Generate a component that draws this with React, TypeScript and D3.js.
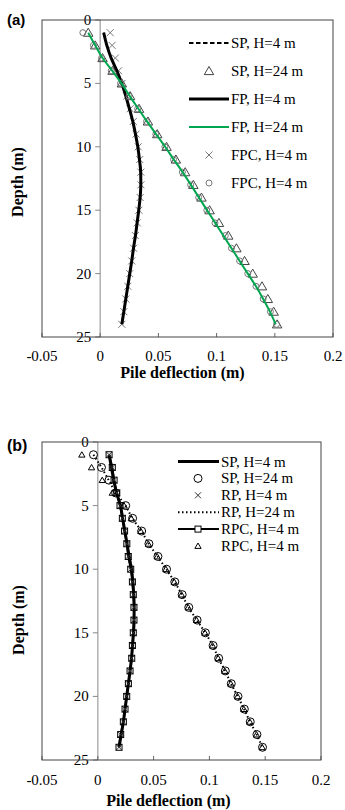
import React from "react";
import * as d3 from "d3";

const depths = [1, 2, 3, 4, 5, 6, 7, 8, 9, 10, 11, 12, 13, 14, 15, 16, 17, 18, 19, 20, 21, 22, 23, 24];
const xTicks = [-0.05, 0, 0.05, 0.1, 0.15, 0.2];
const xTickLabels = ["-0.05", "0", "0.05", "0.1", "0.15", "0.2"];
const yTicks = [0, 5, 10, 15, 20, 25];

// Panel (a)
const aSpH4 = [0.003, 0.0058, 0.0095, 0.0143, 0.0186, 0.0221, 0.0252, 0.028, 0.0303, 0.0323, 0.0338, 0.0348, 0.0349, 0.0343, 0.0331, 0.0317, 0.0302, 0.0286, 0.0271, 0.0254, 0.0237, 0.022, 0.0203, 0.0186];
const aSpH24 = [-0.0103, -0.0043, 0.002, 0.0106, 0.0186, 0.0257, 0.0334, 0.041, 0.049, 0.057, 0.065, 0.073, 0.08, 0.087, 0.094, 0.102, 0.11, 0.117, 0.124, 0.131, 0.139, 0.144, 0.149, 0.152];
const aFpH4 = [0.003, 0.0057, 0.0094, 0.0143, 0.0186, 0.022, 0.0251, 0.028, 0.0303, 0.0323, 0.0337, 0.0348, 0.0349, 0.0343, 0.0331, 0.0317, 0.0303, 0.0286, 0.0271, 0.0254, 0.0237, 0.022, 0.0203, 0.0186];
const aFpH24 = [-0.0103, -0.0043, 0.002, 0.0103, 0.0183, 0.0254, 0.0328, 0.0402, 0.048, 0.0558, 0.0632, 0.0708, 0.0779, 0.0848, 0.0918, 0.0988, 0.1058, 0.1128, 0.1198, 0.1268, 0.1338, 0.14, 0.1458, 0.1508];
const aFpcH4 = [0.0086, 0.0102, 0.013, 0.0158, 0.0188, 0.0229, 0.0257, 0.0285, 0.0308, 0.0327, 0.034, 0.0349, 0.035, 0.0343, 0.0332, 0.0318, 0.0302, 0.0287, 0.0271, 0.0254, 0.0237, 0.022, 0.0203, 0.0186];
const aFpcH24 = [-0.0149, -0.0058, 0.0012, 0.0095, 0.0175, 0.0248, 0.0322, 0.0398, 0.0478, 0.0556, 0.063, 0.0706, 0.0777, 0.0846, 0.0916, 0.0986, 0.1075, 0.1128, 0.1198, 0.1268, 0.1338, 0.14, 0.1462, 0.1515];

// Panel (b)
const bSpH4 = [0.0101, 0.0122, 0.0143, 0.0168, 0.0203, 0.0222, 0.0242, 0.0262, 0.0281, 0.0302, 0.0314, 0.0322, 0.0326, 0.0325, 0.032, 0.0311, 0.0302, 0.0289, 0.0274, 0.0259, 0.0244, 0.0229, 0.021, 0.019];
const bSpH24 = [-0.0039, 0.0033, 0.0100, 0.016, 0.025, 0.0312, 0.0393, 0.0458, 0.0539, 0.0616, 0.069, 0.0756, 0.0815, 0.089, 0.0964, 0.1033, 0.1083, 0.1143, 0.1196, 0.1256, 0.1313, 0.1366, 0.1426, 0.1476];
const bRpH4 = [0.0101, 0.0128, 0.0146, 0.0172, 0.0201, 0.022, 0.0241, 0.026, 0.0272, 0.0295, 0.031, 0.0318, 0.0324, 0.0324, 0.0318, 0.031, 0.0304, 0.0289, 0.0274, 0.0259, 0.0244, 0.0229, 0.0205, 0.019];
const bRpH24 = [-0.0039, 0.0033, 0.0098, 0.0162, 0.0248, 0.031, 0.039, 0.0456, 0.0536, 0.0614, 0.0688, 0.0754, 0.0813, 0.0888, 0.0962, 0.1031, 0.1081, 0.1141, 0.1194, 0.1254, 0.1311, 0.1364, 0.1424, 0.1474];
const bRpcH4 = [0.0101, 0.013, 0.0146, 0.017, 0.0199, 0.022, 0.024, 0.026, 0.0273, 0.0295, 0.031, 0.0318, 0.0324, 0.0324, 0.0318, 0.031, 0.0304, 0.0289, 0.0274, 0.0259, 0.0244, 0.0229, 0.0205, 0.019];
const bRpcH24 = [-0.0143, -0.0056, 0.004, 0.013, 0.0235, 0.03, 0.0385, 0.0452, 0.0532, 0.061, 0.0685, 0.075, 0.081, 0.0885, 0.096, 0.1028, 0.1078, 0.1138, 0.1192, 0.1252, 0.1309, 0.1362, 0.1422, 0.1473];

const legendA = ["SP, H=4 m", "SP, H=24 m", "FP, H=4 m", "FP, H=24 m", "FPC, H=4 m", "FPC, H=4 m"];
const legendB = ["SP, H=4 m", "SP, H=24 m", "RP, H=4 m", "RP, H=24 m", "RPC, H=4 m", "RPC, H=4 m"];

const SERIF = "'Liberation Serif', 'Times New Roman', serif";
const SANS = "'Liberation Sans', Arial, sans-serif";
const GREEN = "#00a54f";

type Sc = d3.ScaleLinear<number, number>;

function tri(x: number, y: number, r: number) {
  return `M${x},${y - r}L${x + r * 1.05},${y + r * 0.8}L${x - r * 1.05},${y + r * 0.8}Z`;
}
function cross(x: number, y: number, r: number) {
  return `M${x - r},${y - r}L${x + r},${y + r}M${x - r},${y + r}L${x + r},${y - r}`;
}

function Axes({ x, y, tickLen, labelDy }: { x: Sc; y: Sc; tickLen: number; labelDy: number }) {
  const [x0, x1] = x.range();
  const [y0, y1] = y.range();
  const zx = x(0);
  return (
    <g>
      <line x1={zx} x2={zx} y1={y0} y2={y1} stroke="#b0b0b0" strokeWidth={1.5} />
      {yTicks.map((t) => (
        <g key={"y" + t}>
          <line x1={zx - 5} x2={zx} y1={y(t)} y2={y(t)} stroke="#888" strokeWidth={1} />
          <text x={zx - 9} y={y(t) + 5} textAnchor="end" fontSize={15} fontFamily={SERIF} fill="#000">
            {t}
          </text>
        </g>
      ))}
      {xTicks.map((t, i) => (
        <g key={"x" + t}>
          <line x1={x(t)} x2={x(t)} y1={y1} y2={y1 - tickLen} stroke="#666" strokeWidth={1} />
          <text x={x(t)} y={y1 + labelDy} textAnchor="middle" fontSize={15} fontFamily={SERIF} fill="#000">
            {xTickLabels[i]}
          </text>
        </g>
      ))}
      <rect x={x0} y={y0} width={x1 - x0} height={y1 - y0} fill="none" stroke="#444" strokeWidth={1} />
    </g>
  );
}

function linePath(x: Sc, y: Sc, vals: number[]) {
  const gen = d3
    .line<number>()
    .x((v) => x(v))
    .y((_, i) => y(depths[i]))
    .curve(d3.curveMonotoneY);
  return gen(vals) || "";
}

export default function App() {
  const xA = d3.scaleLinear().domain([-0.05, 0.2]).range([42, 333]);
  const yA = d3.scaleLinear().domain([0, 25]).range([20, 337]);
  const xB = d3.scaleLinear().domain([-0.05, 0.2]).range([42, 321]);
  const yB = d3.scaleLinear().domain([0, 25]).range([442, 760]);

  const legAy = legendA.map((_, i) => 43 + i * 28);
  const legBy = legendB.map((_, i) => 461.5 + i * 16.9);

  return (
    <svg width={345} height={810} style={{ position: "absolute", left: 0, top: 0, background: "#fff" }}>
      <rect x={0} y={0} width={345} height={810} fill="#fff" />
      {/* Panel (a) */}
      <text x={7} y={25} fontSize={15} fontWeight="bold" fontFamily={SANS}>(a)</text>
      <Axes x={xA} y={yA} tickLen={4} labelDy={24} />
      <path d={linePath(xA, yA, aSpH4)} fill="none" stroke="#000" strokeWidth={1.5} strokeDasharray="4,2" />
      {aFpcH4.map((v, i) => (
        <path key={"ax" + i} d={cross(xA(v), yA(depths[i]), 3.5)} stroke="#777" strokeWidth={1} fill="none" />
      ))}
      <path d={linePath(xA, yA, aFpH4)} fill="none" stroke="#000" strokeWidth={3} />
      {aSpH24.map((v, i) => (
        <path key={"at" + i} d={tri(xA(v), yA(depths[i]), 4.5)} stroke="#444" strokeWidth={1} fill="none" />
      ))}
      {aFpcH24.map((v, i) => (
        <circle key={"ac" + i} cx={xA(v)} cy={yA(depths[i])} r={3} stroke="#777" strokeWidth={1} fill="none" />
      ))}
      <path d={linePath(xA, yA, aFpH24)} fill="none" stroke={GREEN} strokeWidth={2} />
      {/* legend (a) */}
      <g>
        <line x1={189} x2={229} y1={legAy[0]} y2={legAy[0]} stroke="#000" strokeWidth={2} strokeDasharray="4.5,2.5" />
        <path d={tri(209, legAy[1], 4.5)} stroke="#444" strokeWidth={1} fill="none" />
        <line x1={189} x2={229} y1={legAy[2]} y2={legAy[2]} stroke="#000" strokeWidth={3} />
        <line x1={189} x2={229} y1={legAy[3]} y2={legAy[3]} stroke={GREEN} strokeWidth={2} />
        <path d={cross(209, legAy[4], 3.5)} stroke="#777" strokeWidth={1} fill="none" />
        <circle cx={209} cy={legAy[5]} r={3} stroke="#777" strokeWidth={1} fill="none" />
        {legendA.map((t, i) => (
          <text key={"la" + i} x={231} y={legAy[i] + 5} fontSize={15} fontFamily={SERIF}>
            {t}
          </text>
        ))}
      </g>
      <text x={182.5} y={378} textAnchor="middle" fontSize={16} fontWeight="bold" fontFamily={SERIF}>
        Pile deflection (m)
      </text>
      <text transform="translate(23,182) rotate(-90)" textAnchor="middle" fontSize={16} fontWeight="bold" fontFamily={SERIF}>
        Depth (m)
      </text>

      {/* Panel (b) */}
      <text x={7} y={451} fontSize={16} fontWeight="bold" fontFamily={SANS}>(b)</text>
      <Axes x={xB} y={yB} tickLen={4} labelDy={25} />
      <path d={linePath(xB, yB, bRpH24)} fill="none" stroke="#000" strokeWidth={2} strokeDasharray="1.5,2.5" />
      {bSpH24.map((v, i) => (
        <circle key={"bc" + i} cx={xB(v)} cy={yB(depths[i])} r={4} stroke="#000" strokeWidth={1} fill="none" />
      ))}
      {bRpcH24.map((v, i) => (
        <path key={"bt" + i} d={tri(xB(v), yB(depths[i]), 3)} stroke="#000" strokeWidth={1} fill="none" />
      ))}
      <path d={linePath(xB, yB, bSpH4)} fill="none" stroke="#000" strokeWidth={3} />
      <path d={linePath(xB, yB, bRpcH4)} fill="none" stroke="#000" strokeWidth={2} />
      {bRpH4.map((v, i) => (
        <path key={"bx" + i} d={cross(xB(v), yB(depths[i]), 3)} stroke="#333" strokeWidth={1} fill="none" />
      ))}
      {bRpcH4.map((v, i) => (
        <rect key={"bs" + i} x={xB(v) - 3} y={yB(depths[i]) - 3} width={6} height={6} stroke="#000" strokeWidth={1} fill="none" />
      ))}
      {/* legend (b) */}
      <g>
        <line x1={178} x2={219} y1={legBy[0]} y2={legBy[0]} stroke="#000" strokeWidth={3} />
        <circle cx={198} cy={legBy[1]} r={4} stroke="#000" strokeWidth={1} fill="none" />
        <path d={cross(198, legBy[2], 3)} stroke="#333" strokeWidth={1} fill="none" />
        <line x1={178} x2={219} y1={legBy[3]} y2={legBy[3]} stroke="#000" strokeWidth={2} strokeDasharray="1.5,2.5" />
        <line x1={178} x2={219} y1={legBy[4]} y2={legBy[4]} stroke="#000" strokeWidth={2} />
        <rect x={195} y={legBy[4] - 3} width={6} height={6} stroke="#000" strokeWidth={1} fill="#fff" />
        <path d={tri(198, legBy[5], 3)} stroke="#000" strokeWidth={1} fill="none" />
        {legendB.map((t, i) => (
          <text key={"lb" + i} x={221} y={legBy[i] + 5} fontSize={15} fontFamily={SERIF}>
            {t}
          </text>
        ))}
      </g>
      <text x={168.5} y={806} textAnchor="middle" fontSize={16} fontWeight="bold" fontFamily={SERIF}>
        Pile deflection (m)
      </text>
      <text transform="translate(24,620) rotate(-90)" textAnchor="middle" fontSize={16} fontWeight="bold" fontFamily={SERIF}>
        Depth (m)
      </text>
    </svg>
  );
}
